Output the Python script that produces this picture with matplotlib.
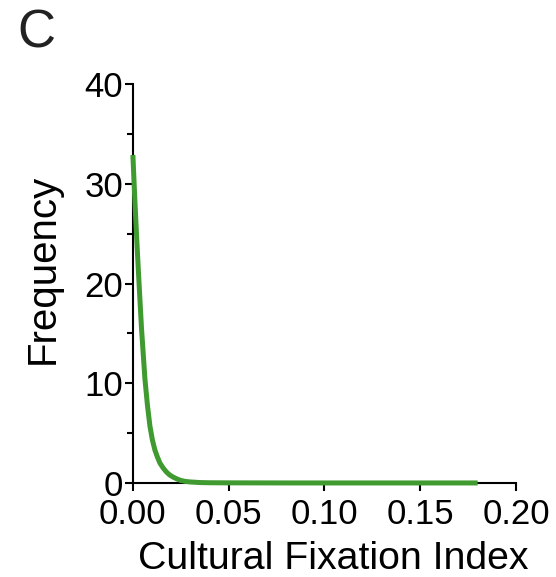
import matplotlib
matplotlib.use("Agg")
import matplotlib.pyplot as plt
from matplotlib.ticker import MultipleLocator

plt.rcParams['font.family'] = ['Liberation Sans', 'DejaVu Sans']

# Data
fst = [0, 0.001, 0.002, 0.003, 0.0045, 0.0063, 0.0076, 0.0089, 0.0102, 0.0115,
       0.0128, 0.0141, 0.0158, 0.0175, 0.0192, 0.0209, 0.023, 0.025, 0.0275,
       0.03, 0.035, 0.04, 0.05, 0.08, 0.12, 0.15, 0.18]
freq = [32.9, 28.5, 24.5, 20.8, 15.5, 10.4, 7.8, 5.7, 4.3, 3.3,
        2.6, 2.0, 1.5, 1.1, 0.8, 0.6, 0.4, 0.25, 0.15,
        0.1, 0.04, 0.02, 0.01, 0, 0, 0, 0]

xticks = [0.00, 0.05, 0.10, 0.15, 0.20]
xticklabels = ['0.00', '0.05', '0.10', '0.15', '0.20']
yticks = [0, 10, 20, 30, 40]

fig = plt.figure(figsize=(5.56, 5.77), dpi=100)
ax = fig.add_axes([0.239, 0.163, 0.689, 0.691])
ax.plot(fst, freq, color='#3f9a30', lw=3.6, solid_capstyle='butt', zorder=3, clip_on=False)

ax.set_xlim(0, 0.20)
ax.set_ylim(0, 40)
ax.set_xticks(xticks)
ax.set_xticklabels(xticklabels)
ax.set_yticks(yticks)
ax.yaxis.set_minor_locator(MultipleLocator(5))

for s in ['top', 'right']:
    ax.spines[s].set_visible(False)
for s in ['left', 'bottom']:
    ax.spines[s].set_linewidth(1.5)
    ax.spines[s].set_color('black')

ax.tick_params(axis='both', which='major', length=6, width=1.5, labelsize=25, colors='black')
ax.tick_params(axis='x', which='major', pad=5)
ax.tick_params(axis='y', which='major', pad=1)
ax.tick_params(axis='y', which='minor', length=4, width=1.5)

ax.set_xlabel('Cultural Fixation Index', fontsize=28.3)
ax.set_ylabel('Frequency', fontsize=29)
ax.xaxis.set_label_coords(0.522, -0.215)
ax.yaxis.set_label_coords(-0.185, 0.536)
ax.xaxis.label.set_va('baseline')
ax.yaxis.label.set_va('bottom')

fig.text(0.032, 0.985, 'C', fontsize=38, va='top', ha='left', color='#222222')

fig.savefig('out.png', dpi=100)
